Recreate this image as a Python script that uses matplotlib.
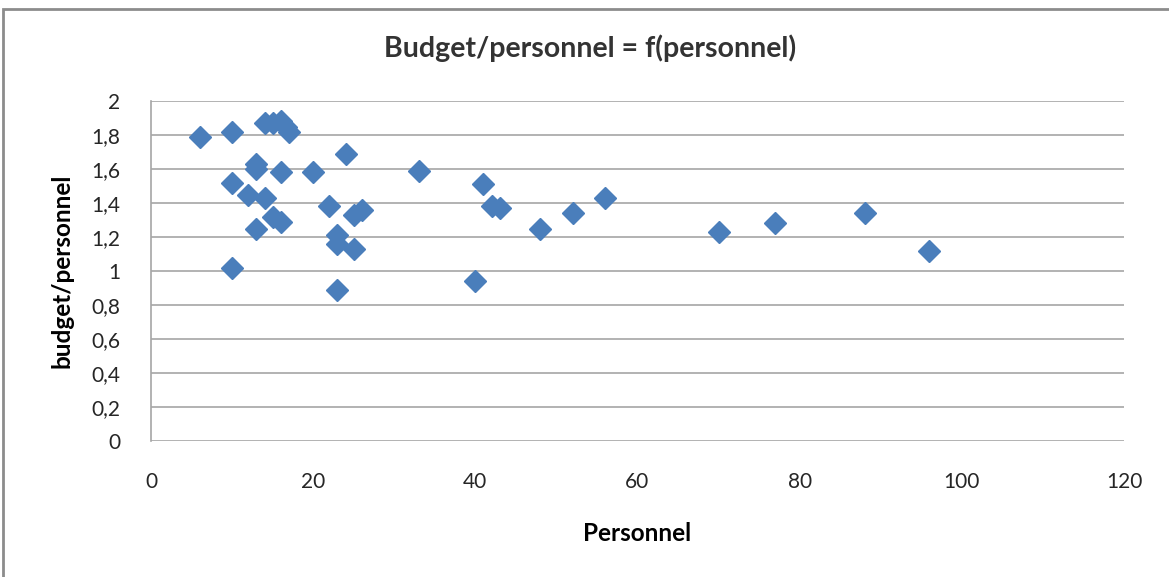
import matplotlib.pyplot as plt
from matplotlib.patches import Rectangle

# personnel count vs budget per person
personnel = [6, 10, 10, 10, 12, 13, 13, 13, 14, 14, 15, 15, 16, 16, 16, 16.6, 17,
             20, 22, 23, 23, 23, 24, 25, 25, 26, 33, 40, 41, 42, 43, 48, 52, 56,
             70, 77, 88, 96]
budget_ratio = [1.79, 1.82, 1.52, 1.02, 1.45, 1.63, 1.60, 1.25, 1.87, 1.43, 1.87,
                1.32, 1.88, 1.58, 1.29, 1.85, 1.82, 1.58, 1.38, 1.21, 1.16, 0.89,
                1.69, 1.33, 1.13, 1.36, 1.59, 0.94, 1.51, 1.38, 1.37, 1.25, 1.34,
                1.43, 1.23, 1.28, 1.34, 1.12]

y_ticks = [0, 0.2, 0.4, 0.6, 0.8, 1.0, 1.2, 1.4, 1.6, 1.8, 2.0]
y_labels = ['0', '0,2', '0,4', '0,6', '0,8', '1', '1,2', '1,4', '1,6', '1,8', '2']
x_ticks = [0, 20, 40, 60, 80, 100, 120]

plt.rcParams['font.family'] = ['Lato', 'DejaVu Sans']
plt.rcParams['text.color'] = '#262626'

W, H = 1169, 577
fig = plt.figure(figsize=(W / 100, H / 100), dpi=100)
ax = fig.add_axes([151 / W, 1 - 441 / H, (1124 - 151) / W, (441 - 101) / H])

ax.plot(personnel, budget_ratio, linestyle='none', marker='D', ms=11,
        color='#4a7ebb', markeredgecolor='#4a7ebb', zorder=3, clip_on=False)

ax.set_xlim(0, 120)
ax.set_ylim(0, 2)
ax.set_xticks(x_ticks)
ax.set_yticks(y_ticks)
ax.set_yticklabels(y_labels)
ax.yaxis.grid(True, color='#a6a6a6', linewidth=1.2)
ax.set_axisbelow(True)
for s in ['top', 'right', 'bottom']:
    ax.spines[s].set_visible(False)
ax.spines['left'].set_color('#a6a6a6')
ax.spines['left'].set_linewidth(1.2)
ax.tick_params(axis='y', length=0, labelsize=15, pad=22, labelcolor='#262626')
ax.tick_params(axis='x', length=0, labelsize=15, pad=22, labelcolor='#262626')

ax.set_xlabel('Personnel', fontsize=17.5, fontweight='bold', labelpad=22)
ax.set_ylabel('budget/personnel', fontsize=17.5, fontweight='bold', labelpad=13)
fig.text(590 / W, 1 - 48 / H, 'Budget/personnel = f(personnel)',
         ha='center', va='center', fontsize=20.5, fontweight='bold', color='#333333')

# outer chart border
fig.patches.append(Rectangle((3 / W, -0.05), 1.1, 1 - 9 / H + 0.05,
                             transform=fig.transFigure, fill=False,
                             edgecolor='#8c8c8c', linewidth=2))

fig.savefig('out.png', dpi=100)
